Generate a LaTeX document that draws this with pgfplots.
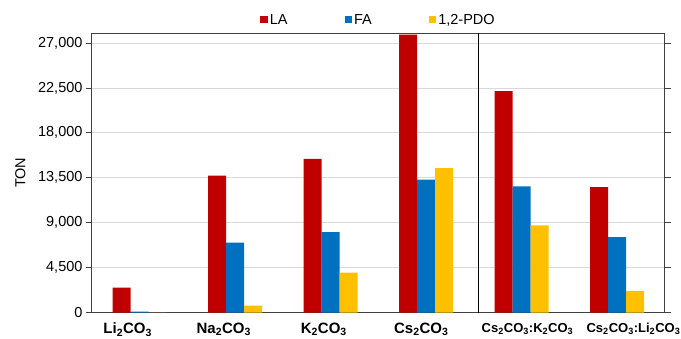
\documentclass[border=0pt]{standalone}
\usepackage{fontspec}
\setmainfont{Liberation Sans}
\usepackage{pgfplots}
\pgfplotsset{compat=1.18}
\definecolor{cLA}{HTML}{C00000}
\definecolor{cFA}{HTML}{0070C0}
\definecolor{cPDO}{HTML}{FFC000}
\begin{document}
\begin{tikzpicture}
\useasboundingbox (-92pt,-25.5pt) rectangle (589pt,312.5pt);
\begin{axis}[
  at={(0pt,0pt)}, anchor=south west,
  scale only axis, width=573pt, height=279.5pt,
  font=\fontsize{14.5}{17}\selectfont,
  /pgf/number format/assume math mode=true,
  ybar=0pt, bar width=18pt,
  xmin=-0.5, xmax=5.5, ymin=0, ymax=28000,
  xtick={-0.126,0.88,1.927,2.948,4.06,5.17},
  xticklabels={\textbf{Li\textsubscript{2}CO\textsubscript{3}},\textbf{Na\textsubscript{2}CO\textsubscript{3}},\textbf{K\textsubscript{2}CO\textsubscript{3}},\textbf{Cs\textsubscript{2}CO\textsubscript{3}},{\fontsize{13}{14}\selectfont\textbf{Cs\textsubscript{2}CO\textsubscript{3}:K\textsubscript{2}CO\textsubscript{3}}},{\fontsize{13}{14}\selectfont\textbf{Cs\textsubscript{2}CO\textsubscript{3}:Li\textsubscript{2}CO\textsubscript{3}}}},
  x tick label style={font=\fontsize{15}{17}\selectfont, yshift=-1pt},
  ytick={0,4500,9000,13500,18000,22500,27000},
  yticklabel style={/pgf/number format/.cd,fixed,1000 sep={,}},
  scaled y ticks=false,
  tick align=outside,
  xtick style={draw=none},
  ytick style={draw=black!75, line width=0.8pt},
  major tick length=6pt,
  ymajorgrids, grid style={draw=black!15, line width=0.8pt},
  axis line style={draw=black!75, line width=1pt},
  ylabel={TON},
  ylabel style={at={(axis description cs:-0.11,0.5)}, anchor=south},
  legend style={at={(0.5,1)}, anchor=south, yshift=3pt, draw=none, fill=none,
    legend columns=3, font=\fontsize{14.5}{17}\selectfont,
    /tikz/every even column/.append style={column sep=55pt}},
  legend image code/.code={\fill[#1] (0pt,-3.5pt) rectangle (7.5pt,4pt);},
]
\addplot[fill=cLA, draw=none] coordinates {(0,2500) (1,13700) (2,15400) (3,27830) (4,22170) (5,12560)};
\addplot[fill=cFA, draw=none] coordinates {(0,100) (1,7000) (2,8050) (3,13300) (4,12630) (5,7560)};
\addplot[fill=cPDO, draw=none] coordinates {(0,0) (1,700) (2,4000) (3,14460) (4,8730) (5,2160)};
\legend{LA,FA,{1,2-PDO}}
\draw[black, line width=0.9pt] (axis cs:3.55,0) -- (axis cs:3.55,28000);
\end{axis}
\end{tikzpicture}
\end{document}
